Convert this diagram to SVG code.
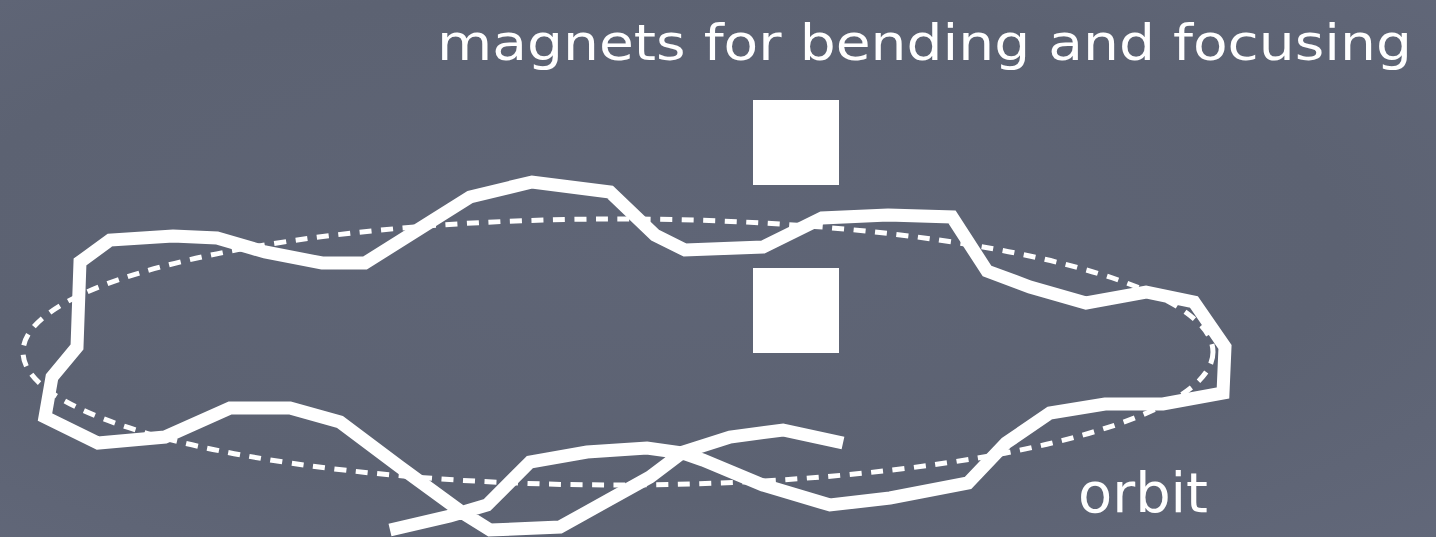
<svg xmlns="http://www.w3.org/2000/svg" width="1436" height="537" viewBox="0 0 1436 537">
  <defs>
    <radialGradient id="slate" cx="0.45" cy="0.45" r="0.8">
      <stop offset="0" stop-color="#5f6576"/>
      <stop offset="0.6" stop-color="#5c6272"/>
      <stop offset="1" stop-color="#62687a"/>
    </radialGradient>
    <style>
      .chalk { fill: none; stroke: #ffffff; stroke-width: 13; stroke-linejoin: miter; stroke-miterlimit: 4; stroke-linecap: butt; }
      .dash { fill: none; stroke: #ffffff; stroke-width: 5; stroke-dasharray: 12 9.5; }
      .magnet { fill: #ffffff; }
      .label { fill: #ffffff; font-family: "DejaVu Sans", "Liberation Sans", sans-serif; }
    </style>
  </defs>
  <rect x="0" y="0" width="1436" height="537" fill="url(#slate)"/>

  <g id="connectors">
    <ellipse id="orbit-ellipse" class="dash" cx="618" cy="352" rx="595" ry="133"/>
    <polyline id="beam-path" class="chalk" points="390,530 450,516 487,505 530,462 587,452 647,448 683,453 703,460 763,485 830,505 890,498 968,483 1006,443 1050,413 1105,404 1163,404 1223,393 1225,347 1194,302 1146,292 1086,303 1030,287 987,271 952,217 888,215 822,218 763,247 685,250 655,235 610,192 532,182 470,197 365,263 322,263 265,252 217,238 173,236 110,240 80,262 77,347 52,377 45,417 98,443 165,437 230,408 290,408 340,422 400,467 463,513 490,530 560,527 650,477 683,452 730,437 783,430 843,443"/>
  </g>

  <g id="magnet-top">
    <rect class="magnet" x="753" y="100" width="86" height="85"/>
  </g>
  <g id="magnet-bottom">
    <rect class="magnet" x="753" y="268" width="86" height="85"/>
  </g>

  <g id="label-title">
    <text class="label" x="437" y="60" font-size="49" textLength="975" lengthAdjust="spacingAndGlyphs">magnets for bending and focusing</text>
  </g>
  <g id="label-orbit">
    <text class="label" x="1078" y="512" font-size="55" textLength="130" lengthAdjust="spacingAndGlyphs">orbit</text>
  </g>
</svg>
